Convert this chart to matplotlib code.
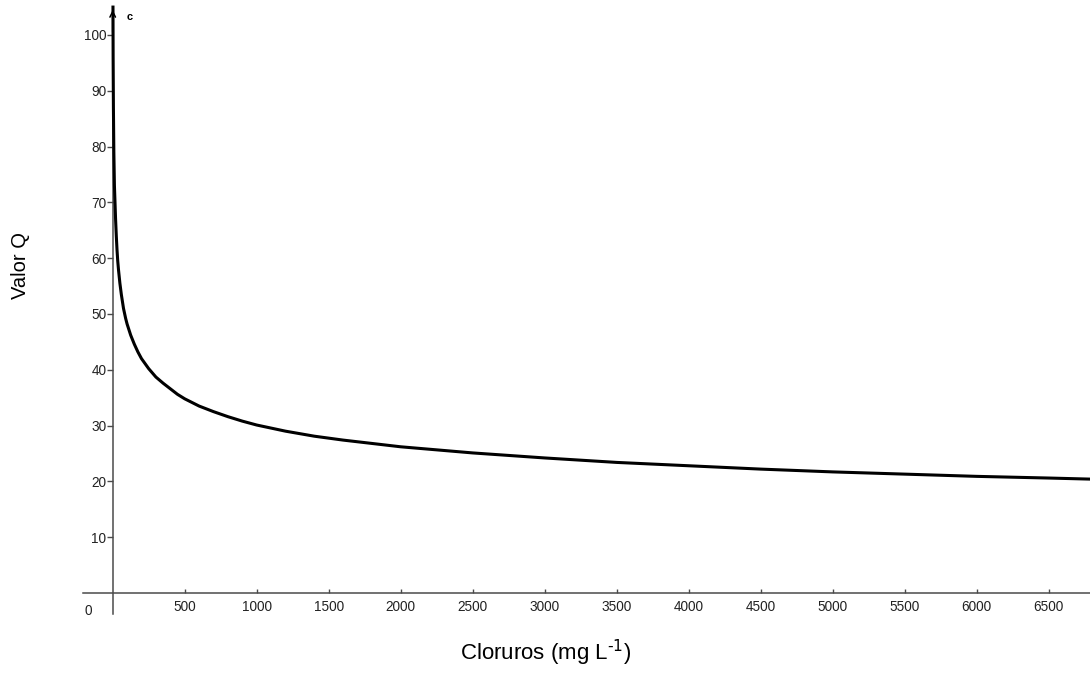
import matplotlib
matplotlib.use("Agg")
import matplotlib.pyplot as plt

plt.rcParams["font.family"] = ["Liberation Sans", "DejaVu Sans"]

# valores (cloruros mg/L vs valor Q)
cloruros = [2, 3, 5, 8, 12, 16, 20, 25, 30, 35, 40, 50, 60, 75, 90, 100,
            125, 150, 175, 200, 250, 300, 350, 400, 450, 500, 600, 700,
            800, 900, 1000, 1200, 1400, 1600, 1800, 2000, 2500, 3000,
            3500, 4000, 4500, 5000, 5500, 6000, 6500, 6800]
valor_q = [105, 96, 87, 79, 73, 70, 67, 64, 61.5, 59.5, 58, 55.5, 53.5,
           51, 49.2, 48.2, 46.2, 44.6, 43.2, 42, 40.2, 38.7, 37.6, 36.6,
           35.6, 34.8, 33.5, 32.5, 31.6, 30.8, 30.1, 29.0, 28.1, 27.4,
           26.8, 26.2, 25.1, 24.2, 23.4, 22.8, 22.2, 21.7, 21.3, 20.9,
           20.6, 20.4]

x_ticks = [500, 1000, 1500, 2000, 2500, 3000, 3500, 4000, 4500, 5000,
           5500, 6000, 6500]
y_ticks = [10, 20, 30, 40, 50, 60, 70, 80, 90, 100]

axis_color = "#4a4a4a"

fig = plt.figure(figsize=(10.9, 6.73), dpi=100)
ax = fig.add_axes([0, 0, 1, 1])
ax.set_xlim(-782.6, 6786.8)
ax.set_ylim(-14.34, 106.27)

ax.plot(cloruros, valor_q, color="black", lw=2.2, zorder=3,
        solid_joinstyle="round")

for side in ["top", "right"]:
    ax.spines[side].set_visible(False)
ax.spines["left"].set_position(("data", 0))
ax.spines["bottom"].set_position(("data", 0))
ax.spines["left"].set_bounds(-3.7, 104.5)
ax.spines["bottom"].set_bounds(-206, 6786.8)
for side in ["left", "bottom"]:
    ax.spines[side].set_color(axis_color)
    ax.spines[side].set_linewidth(1.1)

# flecha del eje y
ax.annotate("", xy=(0, 105.0), xytext=(0, 100),
            arrowprops=dict(arrowstyle="->", color="black", lw=1.1,
                            mutation_scale=10))
ax.text(95, 103.3, "c", fontsize=8, fontweight="bold", va="center",
        ha="left")

ax.set_xticks(x_ticks)
ax.set_yticks(y_ticks)
ax.tick_params(axis="y", direction="out", length=4, width=1,
               color=axis_color, labelsize=9.8, pad=0.5, labelcolor="#222222")
ax.tick_params(axis="x", direction="in", length=3, width=1,
               color=axis_color, labelsize=9.8, pad=5, labelcolor="#222222")
ax.text(-170, -2.0, "0", fontsize=9.8, ha="center", va="top",
        color="#222222")

fig.text(0.0185, 0.606, "Valor Q", rotation=90, fontsize=14.5,
         ha="center", va="center")
fig.text(0.501, 0.030, r"Cloruros (mg L$^{\text{-1}}$)", fontsize=16,
         ha="center", va="center")

fig.savefig("out.png", dpi=100)
